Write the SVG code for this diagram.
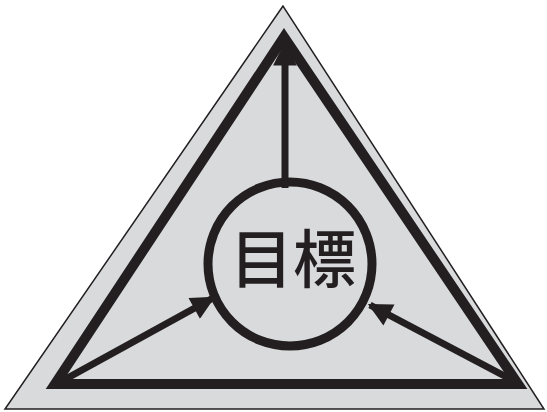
<svg xmlns="http://www.w3.org/2000/svg" width="547" height="412" viewBox="0 0 547 412">
<style>
.outer{fill:#d9dadc;stroke:#231f20;stroke-width:1.5}
.inner{fill:none;stroke:#231f20;stroke-width:10;stroke-linejoin:miter}
.ring{fill:none;stroke:#231f20;stroke-width:9}
.conn{stroke:#231f20;stroke-width:7;fill:none}
.lbl{font-family:"Noto Sans CJK JP","Noto Sans CJK SC",sans-serif;font-size:63px;font-weight:500;fill:#231f20}
</style>
<defs>
<marker id="ah" viewBox="0 0 10 10" refX="9" refY="5" markerWidth="3.6" markerHeight="3.4" markerUnits="strokeWidth" orient="auto">
<path d="M0,0 L10,5 L0,10 Z" fill="#231f20"/>
</marker>
</defs>
<g id="frame">
<polygon class="outer" points="283,6 5,409 544,409"/>
<polygon class="inner" points="284,37 55,384 518,384"/>
</g>
<g id="connectors">
<line class="conn" x1="285" y1="188" x2="285" y2="44" marker-end="url(#ah)"/>
<line class="conn" x1="62" y1="381" x2="213" y2="298" marker-end="url(#ah)"/>
<line class="conn" x1="514" y1="381" x2="370" y2="305" marker-end="url(#ah)"/>
</g>
<g id="goal">
<circle class="ring" cx="290" cy="264" r="82"/>
<text class="lbl" x="293" y="282" text-anchor="middle">目標</text>
</g>
</svg>
